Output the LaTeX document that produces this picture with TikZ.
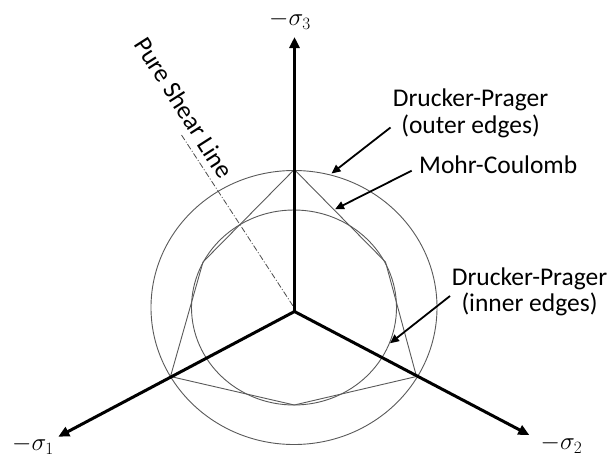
\documentclass[tikz,border=0pt]{standalone}
\usepackage{fontspec}
\setmainfont{Carlito}
\usetikzlibrary{arrows.meta}
\begin{document}
\begin{tikzpicture}[x=1pt,y=-1pt,
  axis/.style={line width=3pt, -{Triangle[length=11pt,width=10pt]}},
  lab/.style={font=\fontsize{25.5}{26.7}\selectfont, align=center, inner sep=0pt},
  ptr/.style={line width=1.8pt, -{Triangle[length=9pt,width=8pt]}},
  curve/.style={draw=black!65, line width=0.9pt},
  shear/.style={draw=black!70, line width=0.8pt, dash pattern=on 6pt off 2pt on 1pt off 2pt}]
\useasboundingbox (0,0) rectangle (611,455);
% centres
\coordinate (O) at (294.5,311.5);
\coordinate (C) at (294,307.5);
% Drucker-Prager circles
\draw[curve] (C) ellipse [x radius=143pt, y radius=137pt];
\draw[curve] (C) ellipse [x radius=102.5pt, y radius=97.5pt];
% Mohr-Coulomb hexagon
\coordinate (h1) at (294.3,169.5);
\coordinate (h2) at (385.5,262);
\coordinate (h3) at (416.5,376.5);
\coordinate (h4) at (294.3,405);
\coordinate (h5) at (170.5,376.5);
\coordinate (h6) at (203,262);
\draw[curve] (h1) -- (h2) -- (h3) -- (h4) -- (h5) -- (h6) -- cycle;
% pure shear line
\coordinate (ps) at (181.5,135);
\draw[shear] (ps) -- (C);
\node[lab, rotate=-57.5] (pstext) at (184,107.5) {Pure Shear Line};
% axes
\coordinate (s3) at (294.5,37);
\coordinate (s1) at (58.3,436.7);
\coordinate (s2) at (529.3,435);
\draw[axis] (O) -- (s3);
\draw[axis] (O) -- (s1);
\draw[axis] (O) -- (s2);
\node[lab] (l3) at (290,20) {$-\sigma_3$};
\node[lab] (l1) at (33,445) {$-\sigma_1$};
\node[lab] (l2) at (561.5,444) {$-\sigma_2$};
% labels
\node[lab] (dpo) at (470.5,113.5) {Drucker-Prager\\(outer edges)};
\node[lab, anchor=base west] (mc) at (419,173.3) {Mohr-Coulomb};
\node[lab] (dpi) at (529.5,291.8) {Drucker-Prager\\(inner edges)};
% pointers
\coordinate (a1s) at (390.5,127.5);
\coordinate (a1t) at (331.5,173.5);
\coordinate (a2s) at (411.7,170.7);
\coordinate (a2t) at (335,209.3);
\coordinate (a3s) at (450,296);
\coordinate (a3t) at (390,343.3);
\draw[ptr] (a1s) -- (a1t);
\draw[ptr] (a2s) -- (a2t);
\draw[ptr] (a3s) -- (a3t);
\end{tikzpicture}
\end{document}
